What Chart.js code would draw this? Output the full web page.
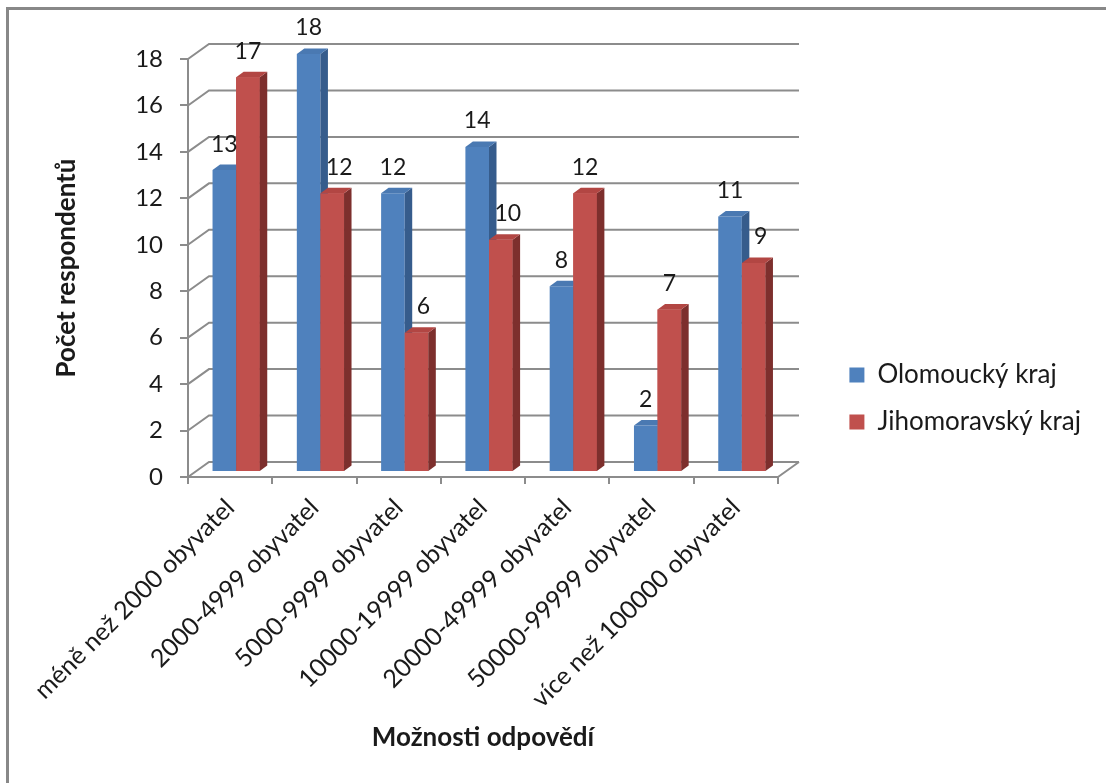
<!DOCTYPE html>
<html>
<head>
<meta charset="utf-8">
<script src="https://cdn.jsdelivr.net/npm/chart.js@4.4.1/dist/chart.umd.min.js"></script>
<style>
  html, body { margin: 0; padding: 0; background: #ffffff; }
  canvas { display: block; }
</style>
</head>
<body>
<canvas id="c" width="1106" height="783"></canvas>
<script>
// Categories (size of municipality) and answers per region
const categories = [
  'méně než 2000 obyvatel',
  '2000-4999 obyvatel',
  '5000-9999 obyvatel',
  '10000-19999 obyvatel',
  '20000-49999 obyvatel',
  '50000-99999 obyvatel',
  'více než 100000 obyvatel'
];
const olomoucky = [13, 18, 12, 14, 8, 2, 11];
const jihomoravsky = [17, 12, 6, 10, 12, 7, 9];
const seriesNames = ['Olomoucký kraj', 'Jihomoravský kraj'];
const yTicks = { min: 0, max: 18, step: 2 };

// Layout / style constants
const FONT = 'Lato, "Open Sans", sans-serif';
const PLOT_LEFT = 188;
const PLOT_RIGHT = 778;
const PLOT_BOTTOM = 477;
const PAD_RIGHT = 15;
const WALL_DX = 21, WALL_DY = -15;     // depth of the back wall
const BAR_DX = 6, BAR_DY = -5;         // bars stand in the middle of the floor
const BOX_DX = 7.5, BOX_DY = -5.5;     // depth of each bar
const LABEL_NUDGE = 7;                 // keeps a label clear of a taller neighbour
const AXIS_GRAY = '#8c8c8c';
const faces = [
  { front: '#4F81BD', top: '#4A79B2', side: '#365C8C' },
  { front: '#C0504D', top: '#B24643', side: '#7D2F2D' }
];

// Excel-like 3D look: back wall grid, bar depth faces, value labels
const depth3d = {
  id: 'depth3d',
  beforeDraw(chart) {
    const ctx = chart.ctx;
    ctx.save();
    ctx.fillStyle = '#888888';
    ctx.fillRect(6, 7, chart.width - 6, 3);
    ctx.fillRect(6, 7, 3, chart.height - 7);
    ctx.restore();
  },
  beforeDatasetsDraw(chart) {
    const ctx = chart.ctx;
    const y = chart.scales.y;
    const { left, right } = chart.chartArea;
    ctx.save();
    ctx.strokeStyle = AXIS_GRAY;
    ctx.lineWidth = 2;
    ctx.beginPath();
    y.ticks.forEach(t => {
      const py = y.getPixelForValue(t.value);
      ctx.moveTo(left, py);
      ctx.lineTo(left + WALL_DX, py + WALL_DY);
      ctx.lineTo(right + WALL_DX, py + WALL_DY);
    });
    const p0 = y.getPixelForValue(yTicks.min);
    ctx.moveTo(right, p0);
    ctx.lineTo(right + WALL_DX, p0 + WALL_DY);
    ctx.stroke();
    ctx.restore();
    ctx.save();
    ctx.translate(BAR_DX, BAR_DY);
  },
  afterDatasetsDraw(chart) {
    const ctx = chart.ctx;
    const metas = [chart.getDatasetMeta(0), chart.getDatasetMeta(1)];
    const drawFaces = (bar, col) => {
      const p = bar.getProps(['x', 'y', 'base', 'width']);
      const l = p.x - p.width / 2, r = p.x + p.width / 2;
      const top = Math.min(p.y, p.base), bot = Math.max(p.y, p.base);
      ctx.fillStyle = col.side;
      ctx.beginPath();
      ctx.moveTo(r, top);
      ctx.lineTo(r + BOX_DX, top + BOX_DY);
      ctx.lineTo(r + BOX_DX, bot + BOX_DY);
      ctx.lineTo(r, bot);
      ctx.closePath();
      ctx.fill();
      ctx.fillStyle = col.top;
      ctx.beginPath();
      ctx.moveTo(l, top);
      ctx.lineTo(l + BOX_DX, top + BOX_DY);
      ctx.lineTo(r + BOX_DX, top + BOX_DY);
      ctx.lineTo(r, top);
      ctx.closePath();
      ctx.fill();
    };
    metas[0].data.forEach((bar, i) => {
      drawFaces(bar, faces[0]);
      const other = metas[1].data[i];
      other.draw(ctx);
      drawFaces(other, faces[1]);
    });
    // value labels
    ctx.fillStyle = '#1a1a1a';
    ctx.font = '23px ' + FONT;
    ctx.textAlign = 'center';
    ctx.textBaseline = 'middle';
    const d0 = chart.data.datasets[0].data;
    metas.forEach((m, di) => {
      const vals = chart.data.datasets[di].data;
      m.data.forEach((bar, i) => {
        const nudge = (di === 1 && d0[i] > vals[i]) ? LABEL_NUDGE : 0;
        ctx.fillText(String(vals[i]), bar.x + nudge, bar.y - 26);
      });
    });
    ctx.restore();
  }
};

new Chart(document.getElementById('c'), {
  type: 'bar',
  data: {
    labels: categories,
    datasets: [
      { label: seriesNames[0], data: olomoucky, backgroundColor: faces[0].front, borderWidth: 0, clip: false,
        categoryPercentage: 0.56, barPercentage: 1 },
      { label: seriesNames[1], data: jihomoravsky, backgroundColor: faces[1].front, borderWidth: 0, clip: false,
        categoryPercentage: 0.56, barPercentage: 1 }
    ]
  },
  plugins: [depth3d],
  options: {
    responsive: false,
    devicePixelRatio: 1,
    animation: false,
    layout: { padding: { top: 14, left: 0, right: PAD_RIGHT, bottom: 0 } },
    plugins: {
      tooltip: { enabled: false },
      legend: {
        position: 'right',
        labels: {
          boxWidth: 15, boxHeight: 15, padding: 21,
          color: '#1a1a1a',
          font: { family: FONT, size: 26 }
        }
      }
    },
    scales: {
      x: {
        position: 'bottom',
        grid: { display: true, drawOnChartArea: false, offset: true, tickLength: 7, color: AXIS_GRAY, lineWidth: 2 },
        border: { display: true, color: AXIS_GRAY, width: 2 },
        ticks: { autoSkip: false, minRotation: 45, maxRotation: 45, padding: 9, color: '#1a1a1a',
                 font: { family: FONT, size: 25 } },
        title: { display: true, text: 'Možnosti odpovědí', color: '#1a1a1a',
                 font: { family: FONT, size: 26, weight: 'bold' }, padding: { top: 0, bottom: 30 } },
        afterFit(s) { s.height = s.chart.height - PLOT_BOTTOM; }
      },
      xTop: {
        type: 'category', position: 'top', display: false,
        afterFit(s) { s.height = 45; }
      },
      y: {
        min: yTicks.min, max: yTicks.max,
        grid: { display: true, drawOnChartArea: false, tickLength: 8, color: AXIS_GRAY, lineWidth: 2 },
        border: { display: true, color: AXIS_GRAY, width: 2 },
        ticks: { stepSize: yTicks.step, padding: 17, color: '#1a1a1a', font: { family: FONT, size: 24 } },
        title: { display: true, text: 'Počet respondentů', color: '#1a1a1a',
                 font: { family: FONT, size: 26, weight: 'bold' }, padding: { top: 51, bottom: 0 } },
        afterFit(s) { s.width = PLOT_LEFT; }
      },
      yRight: {
        type: 'linear', position: 'right', display: false,
        afterFit(s) {
          const lg = s.chart.legend;
          const lw = lg ? lg.width : 0;
          s.width = Math.max(0, s.chart.width - PAD_RIGHT - lw - PLOT_RIGHT);
        }
      }
    }
  }
});
</script>
</body>
</html>
